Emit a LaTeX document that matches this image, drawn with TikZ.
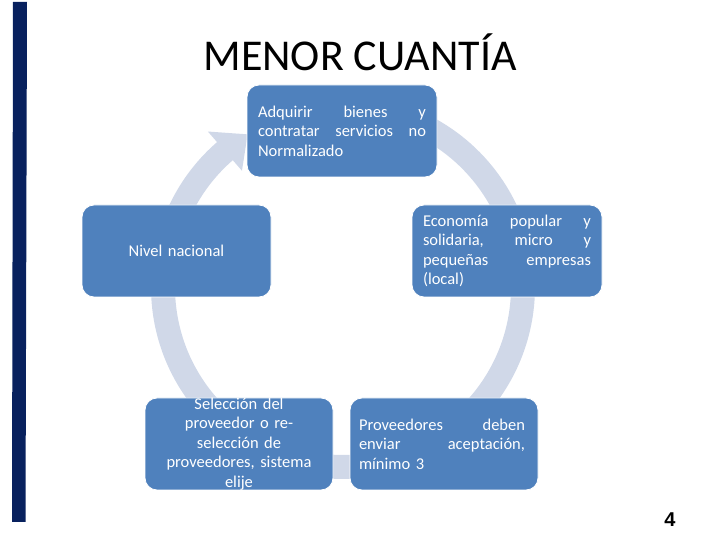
\documentclass[tikz,border=0pt]{standalone}
\usepackage{fontspec}
\setmainfont{Carlito}
\newfontfamily\numfont{Liberation Sans}
\usetikzlibrary{calc}
\definecolor{boxblue}{HTML}{4F81BD}
\definecolor{ringcol}{HTML}{D0D8E8}
\definecolor{barnavy}{RGB}{8,33,94}
\newcommand\jline[1]{\leavevmode\hbox to \hsize{#1}}
\begin{document}
\begin{tikzpicture}[x=1pt,y=1pt,
  box/.style={fill=boxblue, draw=white, line width=0.8pt, rounded corners=12pt,
    minimum width=190pt, minimum height=92pt, inner sep=0pt},
  txt/.style={text=white, font=\fontsize{16.5}{19.5}\selectfont, inner sep=0pt, text width=168pt},
  ringline/.style={draw=ringcol, line width=24pt}]
\useasboundingbox (0,0) rectangle (720,540);
\fill[barnavy] (13,538) -- (27,538) -- (25.5,18) -- (12,18) -- cycle;
\node[font=\fontsize{44}{50}\selectfont, inner sep=0pt] (title) at (360,488) {MENOR CUANTÍA};
\coordinate (c) at (343,253);
\draw[ringline] ($(c)+(130.6:180pt)$) arc[start angle=130.6, end angle=460, radius=180pt];
\fill[ringcol] ($(c)+(131:206pt)$) -- ($(c)+(122:180pt)$) -- ($(c)+(131:154pt)$) -- cycle;
% boxes
\node[box] (top) at (342,409) {};
\node[box] (right) at (507,289) {};
\node[box, minimum width=189pt] (left) at (176.5,289) {};
\node[box, minimum width=188pt] (br) at (444,96) {};
\node[box, minimum width=188pt] (bl) at (239,96) {};
% texts
\node[txt, align=left] (ttop) at (top) {\jline{Adquirir\hfill bienes\hfill y}\\\jline{contratar\hfill servicios\hfill no}\\Normalizado};
\node[txt, align=left] (tright) at (right) {\jline{Economía\hfill popular\hfill y}\\\jline{solidaria,\hfill micro\hfill y}\\\jline{pequeñas\hfill empresas}\\(local)};
\node[txt, align=center] (tleft) at (left) {Nivel nacional};
\node[txt, align=left, text width=166pt] (tbr) at ($(br)+(-2,0)$) {\jline{Proveedores\hfill deben}\\\jline{enviar\hfill aceptación,}\\mínimo 3};
\node[txt, align=center, text width=176pt] (tbl) at (bl) {Selección del\\proveedor o re-\\selección de\\proveedores, sistema\\elije};
\node[font=\numfont\bfseries\fontsize{20}{24}\selectfont, inner sep=0pt] (pnum) at (670,20) {4};
\end{tikzpicture}
\end{document}
